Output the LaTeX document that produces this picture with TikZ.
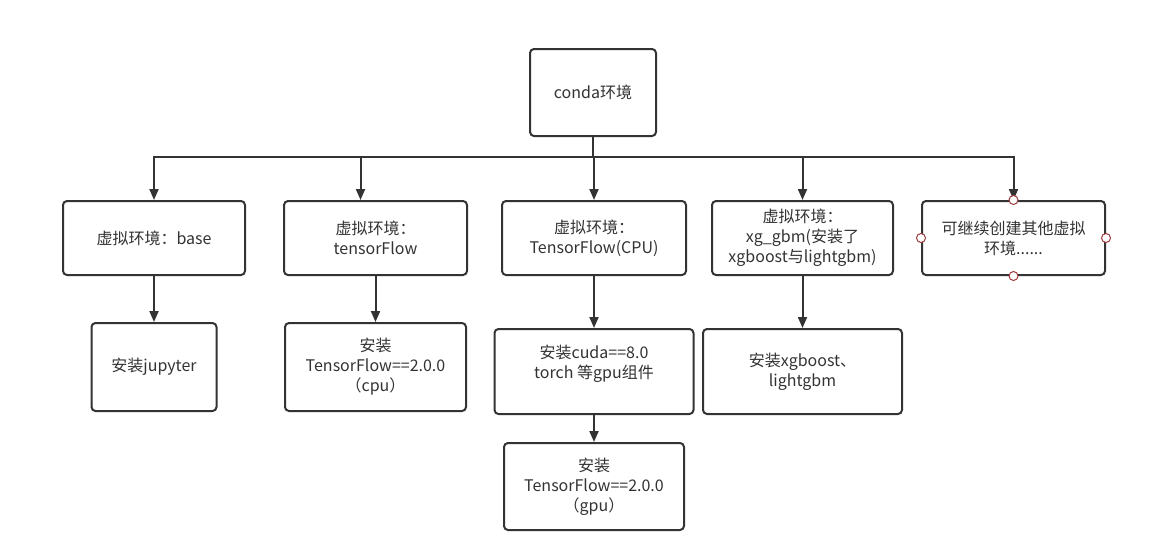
\documentclass[tikz,border=0pt]{standalone}
\usepackage{fontspec}
\setmainfont{Noto Sans CJK SC}
\usetikzlibrary{arrows.meta,calc}
\definecolor{ink}{HTML}{333333}
\definecolor{pin}{HTML}{9E3A3A}

\begin{document}
\begin{tikzpicture}[x=1pt,y=-1pt,
  box/.style={draw=ink, line width=2pt, rounded corners=4pt, fill=white,
    align=center, text=ink, font=\fontsize{16}{20}\selectfont, inner sep=2pt},
  link/.style={draw=ink, line width=2pt},
  arr/.style={link, -{Triangle[length=11pt,width=9pt]}},
  pinpt/.style={circle, draw=pin, fill=white, line width=1pt,
    minimum size=9pt, inner sep=0pt}
]
\useasboundingbox (0,0) rectangle (1164,557);

% Root
\node[box, minimum width=126, minimum height=87] (conda) at (593,92.5) {conda环境};

% Virtual environments
\node[box, minimum width=182, minimum height=74] (base) at (154,238) {虚拟环境：base};
\node[box, minimum width=183, minimum height=74] (tf) at (375.5,238) {虚拟环境：\\tensorFlow};
\node[box, minimum width=184, minimum height=74] (tfcpu) at (594,238) {虚拟环境：\\TensorFlow(CPU)};
\node[box, minimum width=181, minimum height=74] (xgbm) at (802.5,238) {虚拟环境：\\xg\_gbm(安装了\\xgboost与lightgbm)};
\node[box, minimum width=183, minimum height=74] (more) at (1013.5,238) {可继续创建其他虚拟\\环境......};

% Installed packages
\node[box, minimum width=125, minimum height=88] (jupyter) at (154,367) {安装jupyter};
\node[box, minimum width=181, minimum height=88] (tfcpupkg) at (375.5,367) {安装\\TensorFlow==2.0.0\\（cpu）};
\node[box, minimum width=199, minimum height=85] (cuda) at (594,371.5) {安装cuda==8.0\\torch 等gpu组件\\\mbox{}};
\node[box, minimum width=199, minimum height=85] (xgpkg) at (802.5,371.5) {安装xgboost、\\lightgbm};
\node[box, minimum width=180, minimum height=87] (tfgpu) at (594,486.5) {安装\\TensorFlow==2.0.0\\（gpu）};

% Bus
\coordinate (hub) at ($(conda.south)+(0,20)$);
\draw[link] (conda.south) -- (hub);
\draw[link, line cap=rect] (hub -| base) -- (hub -| more);
\foreach \n in {base,tfcpu,xgbm,more}
  \draw[arr] (hub -| \n) -- (\n);
\draw[arr] ($(hub -| tf)+(-15,0)$) -- ($(tf.north)+(-15,0)$);

% Children
\draw[arr] (base) -- (jupyter);
\draw[arr] (tf) -- (tfcpupkg);
\draw[arr] (tfcpu) -- (cuda);
\draw[arr] (xgbm) -- (xgpkg);
\draw[arr] (cuda) -- (tfgpu);

% Connection points
\foreach \a in {north,south,east,west}
  \node[pinpt] (pin-\a) at (more.\a) {};

\end{tikzpicture}
\end{document}
